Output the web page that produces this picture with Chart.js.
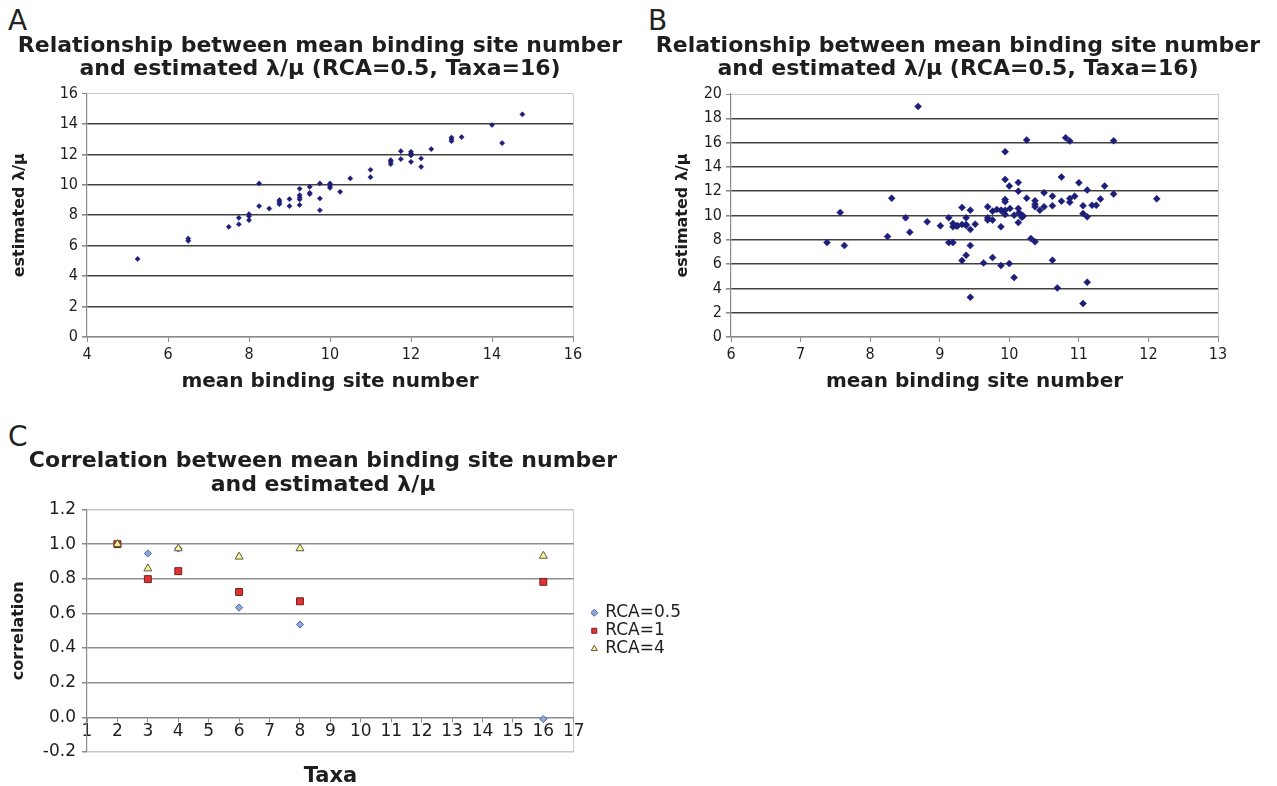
<!DOCTYPE html>
<html>
<head>
<meta charset="utf-8">
<script src="https://cdn.jsdelivr.net/npm/chart.js@4.4.1/dist/chart.umd.min.js"></script>
<style>
  html, body { margin: 0; padding: 0; background: #fff; }
  body { width: 1277px; height: 786px; position: relative; overflow: hidden; font-family: "DejaVu Sans", sans-serif; }
  canvas { position: absolute; }
  .letter { position: absolute; font-size: 28px; line-height: 1; color: #222; }
</style>
</head>
<body>
<div class="letter" style="left:8px;top:7px">A</div>
<div class="letter" style="left:648px;top:7px">B</div>
<div class="letter" style="left:8px;top:423px">C</div>
<canvas id="chartA" width="640" height="400" style="left:0;top:0"></canvas>
<canvas id="chartB" width="636" height="400" style="left:640px;top:0"></canvas>
<canvas id="chartC" width="736" height="366" style="left:-45px;top:420px"></canvas>
<script>
// panel A: mean binding site number vs estimated lambda/mu
const SiteA = [5.25, 6.5, 6.5, 7.5, 7.75, 7.75, 8.0, 8.0, 8.0, 8.25, 8.25, 8.5, 8.75, 8.75, 8.75, 9.0, 9.0,
  9.25, 9.25, 9.25, 9.25, 9.25, 9.5, 9.5, 9.5, 9.75, 9.75, 9.75, 10.0, 10.0, 10.0, 10.25, 10.5, 11.0, 11.0,
  11.5, 11.5, 11.5, 11.75, 11.75, 12.0, 12.0, 12.0, 12.0, 12.25, 12.25, 12.5, 13.0, 13.0, 13.0, 13.25,
  14.0, 14.25, 14.75];
const LambdaA = [5.13, 6.47, 6.32, 7.24, 7.83, 7.41, 8.07, 7.94, 7.68, 10.09, 8.6, 8.44, 8.99, 8.86, 8.73, 9.06, 8.6,
  9.74, 9.32, 9.17, 9.04, 8.68, 9.87, 9.47, 9.39, 10.09, 9.1, 8.33, 10.09, 9.93, 9.8, 9.54, 10.42, 10.99, 10.5,
  11.62, 11.51, 11.36, 12.21, 11.69, 12.17, 12.06, 11.93, 11.51, 11.73, 11.18, 12.35, 13.11, 13.0, 12.87, 13.14,
  13.93, 12.74, 14.63];

// panel B
const SiteB = [7.38, 7.57, 7.63, 8.25, 8.31, 8.51, 8.57, 8.69, 8.82, 9.01, 9.13, 9.13, 9.19, 9.19, 9.19, 9.24,
  9.26, 9.32, 9.32, 9.32, 9.38, 9.38, 9.38, 9.38, 9.44, 9.44, 9.44, 9.44, 9.51, 9.63, 9.69, 9.69, 9.69,
  9.76, 9.76, 9.76, 9.82, 9.88, 9.88, 9.88, 9.89, 9.94, 9.94, 9.94, 9.94, 9.94, 9.94, 10.0, 10.0, 10.01,
  10.07, 10.07, 10.13, 10.13, 10.13, 10.13, 10.14, 10.18, 10.18, 10.2, 10.25, 10.25, 10.31, 10.37, 10.37,
  10.37, 10.37, 10.44, 10.5, 10.5, 10.62, 10.62, 10.62, 10.69, 10.75, 10.75, 10.81, 10.87, 10.87, 10.87,
  10.94, 11.0, 11.06, 11.06, 11.06, 11.12, 11.12, 11.12, 11.19, 11.25, 11.31, 11.37, 11.5, 11.5, 12.12];
const LambdaB = [7.77, 10.25, 7.53, 8.27, 11.43, 9.81, 8.63, 18.98, 9.48, 9.15, 9.81, 7.77, 7.77, 9.34, 9.07, 9.13,
  9.15, 10.66, 9.26, 6.29, 9.81, 9.26, 9.18, 6.73, 10.44, 8.85, 7.53, 3.27, 9.29, 6.1, 10.71, 9.81, 9.62,
  6.54, 10.36, 9.62, 10.49, 10.44, 9.07, 5.88, 10.39, 15.25, 12.97, 11.32, 11.13, 10.44, 10.08, 12.42, 6.04, 10.58,
  4.89, 10.03, 12.72, 12.0, 10.58, 9.42, 10.23, 10.03, 9.86, 9.95, 16.21, 11.43, 8.1, 7.83, 11.21,
  10.93, 10.71, 10.44, 11.87, 10.71, 11.59, 10.8, 6.32, 4.04, 13.16, 11.18, 16.4, 16.13, 11.4, 11.1,
  11.59, 12.69, 10.8, 10.16, 2.75, 12.09, 9.89, 4.51, 10.85, 10.85, 11.35, 12.42, 16.15, 11.76, 11.37];

// panel C: correlation per number of taxa
const Taxa = [2, 3, 4, 6, 8, 16];
const CorrRca05 = [1.0, 0.946, 0.975, 0.634, 0.536, -0.01];
const CorrRca1 = [1.0, 0.798, 0.844, 0.724, 0.67, 0.782];
const CorrRca4 = [1.0, 0.859, 0.975, 0.927, 0.975, 0.932];

const TitleAB = ["Relationship between mean binding site number", "and estimated λ/μ (RCA=0.5, Taxa=16)"];
const TitleC = ["Correlation between mean binding site number", "and estimated λ/μ"];

const Family = "'DejaVu Sans', sans-serif";
const NarrowFamily = "'DejaVu Sans Condensed', 'Liberation Sans Narrow', sans-serif";
const TextColor = "#1e1e1e";
const AxisColor = "#8a8a8a";
const LightLine = "#c8c8c8";
const DarkGrid = "#404040";
const Clear = "rgba(0,0,0,0)";

function Pairs(Xs, Ys) {
  return Xs.map((X, i) => ({ x: X, y: Ys[i] }));
}

function Near(a, b) {
  return Math.abs(a - b) < 1e-6;
}

// an empty axis on the right only reserves room so the title stays centred on the canvas
function Spacer(Width) {
  return {
    position: "right",
    display: true,
    ticks: { display: false },
    grid: { display: false },
    border: { display: false },
    afterFit: (s) => { s.width = Width; },
  };
}

function ScatterPanel(CanvasID, Xs, Ys, Opt) {
  const Canvas = document.getElementById(CanvasID);
  return new Chart(Canvas, {
    type: "scatter",
    data: {
      datasets: [{
        data: Pairs(Xs, Ys),
        pointStyle: "rectRot",
        radius: Opt.radius,
        backgroundColor: "#1d1d7a",
        borderColor: "#1d1d7a",
        borderWidth: 0.5,
      }],
    },
    options: {
      responsive: false,
      animation: false,
      layout: { padding: 0 },
      plugins: {
        legend: { display: false },
        tooltip: { enabled: false },
        title: {
          display: true,
          text: TitleAB,
          color: TextColor,
          font: { family: Family, size: 22, weight: "bold", lineHeight: 1.05 },
          padding: { top: 35, bottom: Opt.top - 35 - 46.2 },
        },
      },
      scales: {
        x: {
          type: "linear",
          min: Opt.xMin,
          max: Opt.xMax,
          ticks: { stepSize: Opt.xStep, color: TextColor, padding: 3, font: { family: NarrowFamily, size: 16 } },
          grid: {
            color: (c) => (c.tick && Near(c.tick.value, Opt.xMax) ? LightLine : Clear),
            tickColor: AxisColor,
            tickLength: 5,
          },
          border: { color: AxisColor, width: 1.2 },
          title: {
            display: true,
            text: "mean binding site number",
            color: TextColor,
            font: { family: Family, size: 20, weight: "bold" },
            padding: { top: 0, bottom: 6 },
          },
          afterFit: (s) => { s.height = 400 - Opt.bottom; },
        },
        y: {
          min: 0,
          max: Opt.yMax,
          ticks: { stepSize: 2, color: TextColor, padding: 4, font: { family: NarrowFamily, size: 16 } },
          grid: {
            color: (c) => {
              if (!c.tick) return DarkGrid;
              if (Near(c.tick.value, Opt.yMax)) return LightLine;
              if (Near(c.tick.value, 0)) return AxisColor;
              return DarkGrid;
            },
            lineWidth: (c) => (c.tick && Near(c.tick.value, Opt.yMax) ? 1 : 1.6),
            tickColor: AxisColor,
            tickLength: 5,
          },
          border: { color: AxisColor, width: 1.2 },
          title: {
            display: true,
            text: "estimated λ/μ",
            color: TextColor,
            font: { family: Family, size: 16, weight: "bold" },
            padding: { top: Opt.yTitle, bottom: 0 },
          },
          afterFit: (s) => { s.width = Opt.left; },
        },
        pad: Spacer(Opt.right),
      },
    },
  });
}

ScatterPanel("chartA", SiteA, LambdaA, {
  radius: 2.6, xMin: 4, xMax: 16, xStep: 2, yMax: 16,
  left: 87, right: 640 - 573, top: 93.5, bottom: 337, yTitle: 10.5,
});

ScatterPanel("chartB", SiteB, LambdaB, {
  radius: 3.5, xMin: 6, xMax: 13, xStep: 1, yMax: 20,
  left: 91, right: 636 - 578, top: 94, bottom: 337, yTitle: 33,
});

// panel C
const CanvasC = document.getElementById("chartC");
new Chart(CanvasC, {
  type: "scatter",
  data: {
    datasets: [
      {
        label: "RCA=0.5",
        data: Pairs(Taxa, CorrRca05),
        pointStyle: "rectRot",
        radius: 3.6,
        backgroundColor: "#8ea6da",
        borderColor: "#4b69a6",
        borderWidth: 1,
        order: 3,
      },
      {
        label: "RCA=1",
        data: Pairs(Taxa, CorrRca1),
        pointStyle: "rect",
        radius: 4.9,
        backgroundColor: "#dd3333",
        borderColor: "#7a1c1c",
        borderWidth: 1,
        order: 2,
      },
      {
        label: "RCA=4",
        data: Pairs(Taxa, CorrRca4),
        pointStyle: "triangle",
        radius: 4.6,
        backgroundColor: "#fbf59a",
        borderColor: "#5a5a40",
        borderWidth: 1,
        order: 1,
      },
    ],
  },
  options: {
    responsive: false,
    animation: false,
    layout: { padding: { top: 0, left: 0, right: 0, bottom: 34 } },
    plugins: {
      tooltip: { enabled: false },
      title: {
        display: true,
        text: TitleC,
        color: TextColor,
        font: { family: Family, size: 22, weight: "bold", lineHeight: 1.1 },
        padding: { top: 29, bottom: 89.5 - 29 - 48.4 },
      },
      legend: {
        position: "right",
        align: "center",
        fullSize: false,
        labels: {
          usePointStyle: true,
          boxWidth: 5,
          boxHeight: 5,
          padding: 1,
          color: TextColor,
          font: { family: Family, size: 17 },
          sort: (a, b) => a.datasetIndex - b.datasetIndex,
        },
      },
    },
    scales: {
      x: {
        type: "linear",
        min: 1,
        max: 17,
        position: { y: 0 },
        ticks: { stepSize: 1, color: TextColor, padding: 0, font: { family: Family, size: 17 } },
        grid: {
          color: (c) => (c.tick && Near(c.tick.value, 17) ? LightLine : Clear),
          tickColor: AxisColor,
          tickLength: 4,
        },
        border: { color: AxisColor, width: 1.4 },
        title: {
          display: true,
          text: "Taxa",
          color: TextColor,
          font: { family: Family, size: 21, weight: "bold" },
          padding: { top: 0, bottom: 0 },
        },
        afterFit: (s) => { s.height = 72; },
      },
      y: {
        min: -0.2,
        max: 1.2,
        ticks: {
          stepSize: 0.2,
          color: TextColor,
          padding: 6,
          font: { family: Family, size: 17 },
          callback: (v) => (Math.abs(v) < 1e-9 ? 0 : v).toFixed(1),
        },
        grid: {
          color: (c) => {
            if (!c.tick) return "#8f8f8f";
            const V = c.tick.value;
            if (Near(V, 1.2) || Near(V, -0.2)) return LightLine;
            if (Near(V, 0)) return Clear;
            return "#8f8f8f";
          },
          lineWidth: 1.5,
          tickColor: AxisColor,
          tickLength: 5,
        },
        border: { color: AxisColor, width: 1.2 },
        title: {
          display: true,
          text: "correlation",
          color: TextColor,
          font: { family: Family, size: 16, weight: "bold" },
          padding: { top: 54, bottom: 0 },
        },
        afterFit: (s) => { s.width = 132; },
      },
      pad: Spacer(17),
    },
  },
});
</script>
</body>
</html>
